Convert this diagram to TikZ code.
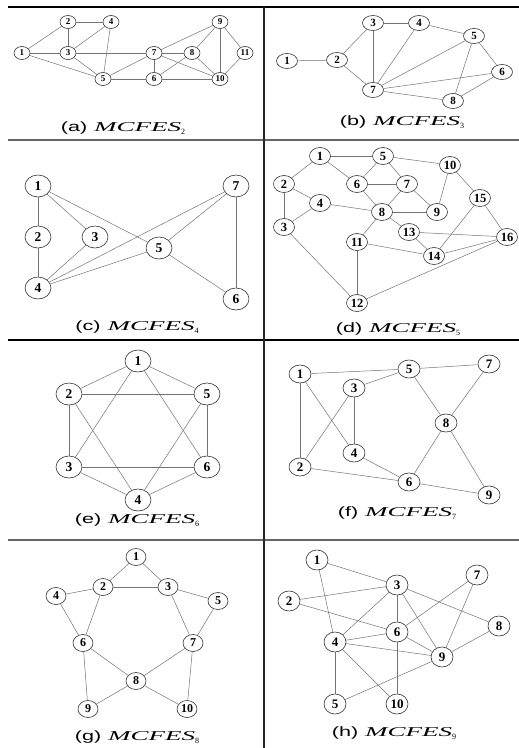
\documentclass[tikz,border=0pt]{standalone}
\usepackage{fontspec}
\setmainfont{Liberation Serif}
\newfontfamily\capsans[FakeStretch=1.6]{Liberation Sans}
\newfontfamily\capserif[FakeStretch=2.0]{Liberation Serif}
\usetikzlibrary{shapes.geometric}

\newcommand{\mcfes}[2]{{\capsans (#1)}\hspace{7pt}{\capserif\itshape MCFES}\raisebox{-3pt}{\fontsize{8}{8}\selectfont #2}}

\begin{document}
\begin{tikzpicture}[x=1pt, y=-1pt,
  vx/.style={draw=black!80, ellipse, inner sep=0pt, line width=0.6pt, fill=white},
  va/.style={vx, minimum width=16pt, minimum height=13pt, font=\bfseries\fontsize{9}{9}\selectfont},
  vb/.style={vx, minimum width=21pt, minimum height=15pt, font=\bfseries\fontsize{11}{11}\selectfont},
  vc/.style={vx, minimum width=26pt, minimum height=22pt, font=\bfseries\fontsize{13.5}{13.5}\selectfont},
  vd/.style={vx, minimum width=21pt, minimum height=17pt, font=\bfseries\fontsize{12.5}{12.5}\selectfont},
  vf/.style={vx, minimum width=22pt, minimum height=18pt, font=\bfseries\fontsize{13}{13}\selectfont},
  vg/.style={vx, minimum width=20pt, minimum height=17pt, font=\bfseries\fontsize{12}{12}\selectfont},
  vh/.style={vx, minimum width=22pt, minimum height=20pt, font=\bfseries\fontsize{13}{13}\selectfont},
  link/.style={draw=black!55, line width=0.5pt},
  captxt/.style={inner sep=0pt, font=\fontsize{13.5}{14}\selectfont},
  rule/.style={line width=1.4pt}]
\useasboundingbox (0,0) rectangle (519,748);

% frame
\draw[rule, black] (8,7) -- (519,7);
\draw[rule, black!60] (8,140) -- (519,140);
\draw[rule, black] (8,340) -- (519,340);
\draw[rule, black!60] (8,540) -- (519,540);
\draw[rule, black!85] (264,7) -- (264,748);

% (a)
\node[va] (a1) at (22,53) {1};
\node[va] (a2) at (68,22) {2};
\node[va] (a3) at (68,53) {3};
\node[va] (a4) at (111,22) {4};
\node[va] (a5) at (103,79) {5};
\node[va] (a6) at (154,79) {6};
\node[va] (a7) at (154,53) {7};
\node[va] (a8) at (192,53) {8};
\node[va] (a9) at (220,22) {9};
\node[va] (a10) at (220,79) {10};
\node[va] (a11) at (245,53) {11};
\node[captxt] (capa) at (123,128) {\mcfes{a}{2}};
\draw[link] (a1) -- (a2); \draw[link] (a1) -- (a3); \draw[link] (a1) -- (a5);
\draw[link] (a2) -- (a4); \draw[link] (a2) -- (a3); \draw[link] (a3) -- (a4);
\draw[link] (a3) -- (a5); \draw[link] (a3) -- (a7); \draw[link] (a4) -- (a5);
\draw[link] (a5) -- (a7); \draw[link] (a5) -- (a6); \draw[link] (a6) -- (a7);
\draw[link] (a7) -- (a8); \draw[link] (a7) -- (a9); \draw[link] (a7) -- (a10);
\draw[link] (a6) -- (a8); \draw[link] (a6) -- (a10); \draw[link] (a8) -- (a9);
\draw[link] (a8) -- (a10); \draw[link] (a9) -- (a10); \draw[link] (a9) -- (a11);
\draw[link] (a10) -- (a11);

% (b)
\node[vb] (b1) at (287,61) {1};
\node[vb] (b2) at (337,60) {2};
\node[vb] (b3) at (373,23) {3};
\node[vb] (b4) at (419,23) {4};
\node[vb] (b5) at (474,36) {5};
\node[vb] (b6) at (502,72) {6};
\node[vb] (b7) at (373,90) {7};
\node[vb] (b8) at (453,101) {8};
\node[captxt] (capb) at (402,122) {\mcfes{b}{3}};
\draw[link] (b1) -- (b2); \draw[link] (b2) -- (b3); \draw[link] (b2) -- (b7);
\draw[link] (b3) -- (b4); \draw[link] (b3) -- (b7); \draw[link] (b4) -- (b5);
\draw[link] (b4) -- (b7); \draw[link] (b5) -- (b7); \draw[link] (b5) -- (b6);
\draw[link] (b5) -- (b8); \draw[link] (b6) -- (b7); \draw[link] (b6) -- (b8);
\draw[link] (b7) -- (b8);

% (c)
\node[vc] (c1) at (38,186) {1};
\node[vc] (c2) at (38,237) {2};
\node[vc] (c3) at (95,237) {3};
\node[vc] (c4) at (38,288) {4};
\node[vc] (c5) at (159,248) {5};
\node[vc] (c6) at (236,299) {6};
\node[vc] (c7) at (236,186) {7};
\node[captxt] (capc) at (137,327) {\mcfes{c}{4}};
\draw[link] (c1) -- (c2); \draw[link] (c1) -- (c3); \draw[link] (c1) -- (c5);
\draw[link] (c2) -- (c4); \draw[link] (c3) -- (c4); \draw[link] (c4) -- (c7);
\draw[link] (c4) -- (c5); \draw[link] (c5) -- (c7); \draw[link] (c5) -- (c6);
\draw[link] (c6) -- (c7);

% (d)
\node[vd] (d1) at (320,156) {1};
\node[vd] (d2) at (284,184) {2};
\node[vd] (d3) at (284,227) {3};
\node[vd] (d4) at (320,203) {4};
\node[vd] (d5) at (383,156) {5};
\node[vd] (d6) at (357,184) {6};
\node[vd] (d7) at (407,184) {7};
\node[vd] (d8) at (382,212) {8};
\node[vd] (d9) at (437,212) {9};
\node[vd] (d10) at (450,165) {10};
\node[vd] (d11) at (357,242) {11};
\node[vd] (d12) at (357,303) {12};
\node[vd] (d13) at (409,232) {13};
\node[vd] (d14) at (434,256) {14};
\node[vd] (d15) at (480,198) {15};
\node[vd] (d16) at (507,237) {16};
\node[captxt] (capd) at (398,329) {\mcfes{d}{5}};
\draw[link] (d1) -- (d5); \draw[link] (d1) -- (d2); \draw[link] (d1) -- (d6);
\draw[link] (d5) -- (d6); \draw[link] (d5) -- (d7); \draw[link] (d5) -- (d10);
\draw[link] (d6) -- (d7); \draw[link] (d6) -- (d8); \draw[link] (d7) -- (d8);
\draw[link] (d7) -- (d9); \draw[link] (d9) -- (d10); \draw[link] (d10) -- (d15);
\draw[link] (d2) -- (d4); \draw[link] (d2) -- (d3); \draw[link] (d3) -- (d4);
\draw[link] (d4) -- (d8); \draw[link] (d8) -- (d9); \draw[link] (d8) -- (d13);
\draw[link] (d8) -- (d11); \draw[link] (d3) -- (d12); \draw[link] (d11) -- (d12);
\draw[link] (d11) -- (d14); \draw[link] (d13) -- (d14); \draw[link] (d13) -- (d16);
\draw[link] (d14) -- (d15); \draw[link] (d15) -- (d16); \draw[link] (d14) -- (d16);
\draw[link] (d12) -- (d16);

% (e)
\node[vc] (e1) at (138,361) {1};
\node[vc] (e2) at (69,394) {2};
\node[vc] (e3) at (69,467) {3};
\node[vc] (e4) at (138,500) {4};
\node[vc] (e5) at (207,394) {5};
\node[vc] (e6) at (207,467) {6};
\node[captxt] (cape) at (137,520) {\mcfes{e}{6}};
\draw[link] (e1) -- (e2); \draw[link] (e1) -- (e5); \draw[link] (e2) -- (e5);
\draw[link] (e2) -- (e3); \draw[link] (e5) -- (e6); \draw[link] (e3) -- (e6);
\draw[link] (e3) -- (e4); \draw[link] (e4) -- (e6); \draw[link] (e1) -- (e3);
\draw[link] (e1) -- (e6); \draw[link] (e2) -- (e4); \draw[link] (e5) -- (e4);

% (f)
\node[vf] (f1) at (300,374) {1};
\node[vf] (f2) at (300,467) {2};
\node[vf] (f3) at (354,388) {3};
\node[vf] (f4) at (354,453) {4};
\node[vf] (f5) at (409,369) {5};
\node[vf] (f6) at (409,482) {6};
\node[vf] (f7) at (489,364) {7};
\node[vf] (f8) at (446,423) {8};
\node[vf] (f9) at (489,495) {9};
\node[captxt] (capf) at (397,513) {\mcfes{f}{7}};
\draw[link] (f1) -- (f5); \draw[link] (f5) -- (f7); \draw[link] (f1) -- (f2);
\draw[link] (f1) -- (f4); \draw[link] (f3) -- (f5); \draw[link] (f3) -- (f4);
\draw[link] (f3) -- (f2); \draw[link] (f5) -- (f8); \draw[link] (f7) -- (f8);
\draw[link] (f8) -- (f6); \draw[link] (f8) -- (f9); \draw[link] (f4) -- (f6);
\draw[link] (f2) -- (f6); \draw[link] (f6) -- (f9);

% (g)
\node[vg] (g1) at (136,557) {1};
\node[vg] (g2) at (103,587) {2};
\node[vg] (g3) at (168,587) {3};
\node[vg] (g4) at (56,596) {4};
\node[vg] (g5) at (218,601) {5};
\node[vg] (g6) at (83,643) {6};
\node[vg] (g7) at (193,643) {7};
\node[vg] (g8) at (136,681) {8};
\node[vg] (g9) at (88,709) {9};
\node[vg] (g10) at (187,709) {10};
\node[captxt] (capg) at (137,737) {\mcfes{g}{8}};
\draw[link] (g1) -- (g2); \draw[link] (g1) -- (g3); \draw[link] (g2) -- (g3);
\draw[link] (g2) -- (g4); \draw[link] (g4) -- (g6); \draw[link] (g2) -- (g6);
\draw[link] (g3) -- (g5); \draw[link] (g3) -- (g7); \draw[link] (g5) -- (g7);
\draw[link] (g6) -- (g8); \draw[link] (g7) -- (g8); \draw[link] (g6) -- (g9);
\draw[link] (g7) -- (g10); \draw[link] (g8) -- (g9); \draw[link] (g8) -- (g10);

% (h)
\node[vh] (h1) at (317,560) {1};
\node[vh] (h2) at (289,601) {2};
\node[vh] (h3) at (397,585) {3};
\node[vh] (h4) at (335,642) {4};
\node[vh] (h5) at (335,704) {5};
\node[vh] (h6) at (397,632) {6};
\node[vh] (h7) at (477,575) {7};
\node[vh] (h8) at (499,626) {8};
\node[vh] (h9) at (442,657) {9};
\node[vh] (h10) at (397,704) {10};
\node[captxt] (caph) at (394,733) {\mcfes{h}{9}};
\draw[link] (h1) -- (h3); \draw[link] (h1) -- (h4); \draw[link] (h2) -- (h3);
\draw[link] (h2) -- (h6); \draw[link] (h3) -- (h4); \draw[link] (h3) -- (h6);
\draw[link] (h3) -- (h9); \draw[link] (h3) -- (h8); \draw[link] (h7) -- (h6);
\draw[link] (h7) -- (h9); \draw[link] (h8) -- (h9); \draw[link] (h4) -- (h6);
\draw[link] (h4) -- (h9); \draw[link] (h4) -- (h5); \draw[link] (h4) -- (h10);
\draw[link] (h6) -- (h9); \draw[link] (h6) -- (h10); \draw[link] (h5) -- (h9);
\end{tikzpicture}
\end{document}
